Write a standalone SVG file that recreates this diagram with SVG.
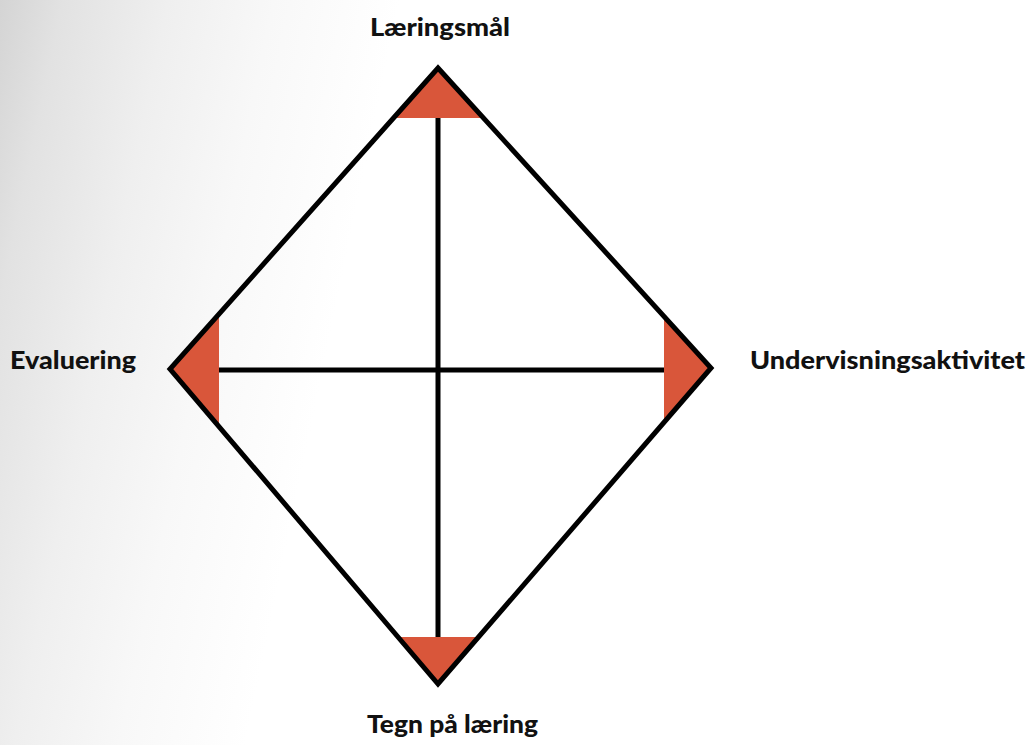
<svg xmlns="http://www.w3.org/2000/svg" width="1030" height="745" viewBox="0 0 1030 745">
<defs>
<linearGradient id="bg" x1="0" y1="0" x2="1" y2="0.15">
<stop offset="0" stop-color="#d4d4d4"/>
<stop offset="0.06" stop-color="#e2e2e2"/>
<stop offset="0.16" stop-color="#efefef"/>
<stop offset="0.26" stop-color="#f8f8f8"/>
<stop offset="0.38" stop-color="#ffffff"/>
<stop offset="1" stop-color="#ffffff"/>
</linearGradient>
<style>
.lbl{font-family:Lato,"Liberation Sans",sans-serif;font-weight:900;font-size:25px;fill:#111}
.tri{fill:#d9563a}
.ln{stroke:#000;stroke-width:5;fill:none}
</style>
</defs>
<rect x="0" y="0" width="1030" height="745" fill="url(#bg)"/>
<g id="corners">
<polygon class="tri" points="438,68 392,118 484,118"/>
<polygon class="tri" points="711,368 664,316 664,420"/>
<polygon class="tri" points="438,684 397,637 479,637"/>
<polygon class="tri" points="170,369 219,314 219,424"/>
</g>
<g id="connectors">
<line class="ln" x1="438" y1="118" x2="438" y2="637"/>
<line class="ln" x1="219" y1="370" x2="664" y2="370"/>
<polygon class="ln" stroke-linejoin="miter" points="438,68 711,368 438,684 170,369"/>
</g>
<g id="n-top"><text class="lbl" x="370" y="36" textLength="140" lengthAdjust="spacingAndGlyphs">Læringsmål</text></g>
<g id="n-right"><text class="lbl" x="750" y="369" textLength="275" lengthAdjust="spacingAndGlyphs">Undervisningsaktivitet</text></g>
<g id="n-bottom"><text class="lbl" x="367" y="733" textLength="171" lengthAdjust="spacingAndGlyphs">Tegn på læring</text></g>
<g id="n-left"><text class="lbl" x="10" y="369" textLength="126" lengthAdjust="spacingAndGlyphs">Evaluering</text></g>
</svg>
